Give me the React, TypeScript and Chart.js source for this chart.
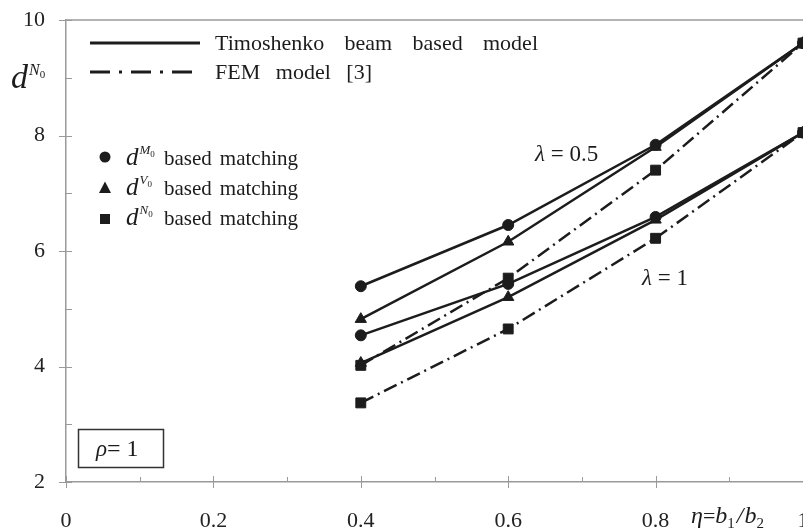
import React, { useEffect, useRef } from "react";
import { Chart, registerables } from "chart.js";

Chart.register(...registerables);

// ---- data ----
const etaValues = [0.4, 0.6, 0.8, 1.0];
// lambda = 0.5
const lam05_M0 = [5.39, 6.45, 7.84, 9.6];
const lam05_V0 = [4.82, 6.16, 7.8, 9.6];
const lam05_FEM = [4.02, 5.53, 7.4, 9.6];
// lambda = 1
const lam1_M0 = [4.54, 5.43, 6.59, 8.05];
const lam1_V0 = [4.06, 5.2, 6.54, 8.05];
const lam1_FEM = [3.37, 4.65, 6.22, 8.05];

const yTicks = [2, 4, 6, 8, 10];
const xTicks = [0, 0.2, 0.4, 0.6, 0.8, 1];

const INK = "#1c1c1c";
const AXIS = "#9a9a9a";
const SERIF = "'Liberation Serif', 'DejaVu Serif', serif";

const pts = (ys: number[]) => etaValues.map((x, i) => ({ x, y: ys[i] }));

type Run = { t: string; size: number; italic?: boolean; dy?: number; dx?: number };

function drawRuns(ctx: CanvasRenderingContext2D, x: number, y: number, runs: Run[]) {
  let cx = x;
  for (const r of runs) {
    ctx.font = `${r.italic ? "italic " : ""}${r.size}px ${SERIF}`;
    cx += r.dx || 0;
    ctx.fillText(r.t, cx, y + (r.dy || 0));
    cx += ctx.measureText(r.t).width;
  }
  return cx;
}

function drawSpaced(ctx: CanvasRenderingContext2D, words: string[], x0: number, x1: number, y: number) {
  const widths = words.map((w) => ctx.measureText(w).width);
  const total = widths.reduce((a, b) => a + b, 0);
  const gap = (x1 - x0 - total) / Math.max(1, words.length - 1);
  let cx = x0;
  words.forEach((w, i) => {
    ctx.fillText(w, cx, y);
    cx += widths[i] + gap;
  });
}

const decor = {
  id: "decor",
  afterDraw(chart: any) {
    const ctx: CanvasRenderingContext2D = chart.ctx;
    const { left, right, top, bottom } = chart.chartArea;
    const xs = chart.scales.x;
    const ys = chart.scales.y;
    ctx.save();
    // top frame line
    ctx.strokeStyle = AXIS;
    ctx.lineWidth = 1.5;
    ctx.beginPath();
    ctx.moveTo(left, top);
    ctx.lineTo(right + 30, top);
    ctx.stroke();
    // y ticks
    ctx.lineWidth = 1;
    for (let v = 2; v <= 10; v += 1) {
      const py = Math.round(ys.getPixelForValue(v)) + 0.5;
      ctx.beginPath();
      if (v % 2 === 0) {
        ctx.moveTo(left - 7, py);
        ctx.lineTo(left + 6, py);
      } else {
        ctx.moveTo(left, py);
        ctx.lineTo(left + 6, py);
      }
      ctx.stroke();
    }
    // x ticks
    for (let i = 0; i <= 10; i++) {
      const v = i / 10;
      const px = Math.round(xs.getPixelForValue(v)) + 0.5;
      ctx.beginPath();
      if (i % 2 === 0) {
        ctx.moveTo(px, bottom - 6);
        ctx.lineTo(px, bottom + 6);
      } else {
        ctx.moveTo(px, bottom - 5);
        ctx.lineTo(px, bottom);
      }
      ctx.stroke();
    }

    ctx.fillStyle = INK;
    ctx.strokeStyle = INK;
    // legend lines
    ctx.lineWidth = 3;
    ctx.beginPath();
    ctx.moveTo(90, 43);
    ctx.lineTo(200, 43);
    ctx.stroke();
    ctx.setLineDash([20, 9, 3, 9]);
    ctx.beginPath();
    ctx.moveTo(90, 72);
    ctx.lineTo(200, 72);
    ctx.stroke();
    ctx.setLineDash([]);

    ctx.textBaseline = "alphabetic";
    ctx.textAlign = "left";
    ctx.font = `22px ${SERIF}`;
    drawSpaced(ctx, ["Timoshenko", "beam", "based", "model"], 215, 538, 50);
    drawSpaced(ctx, ["FEM", "model", "[3]"], 215, 372, 79);

    // marker legend
    ctx.beginPath();
    ctx.arc(105, 157, 5.5, 0, Math.PI * 2);
    ctx.fill();
    ctx.beginPath();
    ctx.moveTo(105, 181.5);
    ctx.lineTo(111, 193);
    ctx.lineTo(99, 193);
    ctx.closePath();
    ctx.fill();
    ctx.fillRect(100, 214, 10, 10);

    const rows: [string, number][] = [
      ["M", 165],
      ["V", 195],
      ["N", 225],
    ];
    rows.forEach(([sup, base]) => {
      drawRuns(ctx, 126, base, [
        { t: "d", size: 25, italic: true },
        { t: sup, size: 13, italic: true, dy: -11, dx: 1 },
        { t: "0", size: 9, dy: -8 },
      ]);
      ctx.font = `21px ${SERIF}`;
      drawSpaced(ctx, ["based", "matching"], 164, 298, base);
    });

    // y axis title
    drawRuns(ctx, 11, 88, [
      { t: "d", size: 34, italic: true },
      { t: "N", size: 16, italic: true, dy: -13, dx: 1 },
      { t: "0", size: 11, dy: -10 },
    ]);

    // x axis title
    drawRuns(ctx, 691, 523, [
      { t: "\u03B7", size: 24, italic: true },
      { t: "=", size: 22 },
      { t: "b", size: 24, italic: true },
      { t: "1", size: 15, dy: 5 },
      { t: "/", size: 24, italic: true, dx: 2 },
      { t: "b", size: 24, italic: true, dx: 1 },
      { t: "2", size: 15, dy: 5 },
    ]);

    // lambda labels
    drawRuns(ctx, 535, 161, [
      { t: "\u03BB", size: 23, italic: true },
      { t: " = 0.5", size: 23 },
    ]);
    drawRuns(ctx, 642, 285, [
      { t: "\u03BB", size: 23, italic: true },
      { t: " = 1", size: 23 },
    ]);

    // rho box
    ctx.strokeStyle = "#333";
    ctx.lineWidth = 1.5;
    ctx.strokeRect(78.5, 429.5, 85, 38);
    drawRuns(ctx, 96, 456, [
      { t: "\u03C1", size: 23, italic: true },
      { t: "= 1", size: 24 },
    ]);

    ctx.restore();
  },
};

function mkSet(data: number[], style: string, radius: number, dashed: boolean) {
  return {
    data: pts(data),
    borderColor: INK,
    backgroundColor: INK,
    borderWidth: 2.5,
    borderDash: dashed ? [14, 5, 2, 5] : [],
    pointStyle: style,
    pointRadius: radius,
    pointBackgroundColor: INK,
    pointBorderColor: INK,
    pointBorderWidth: 1,
    tension: 0,
    fill: false,
    clip: false as any,
  };
}

export default function App() {
  const ref = useRef<HTMLCanvasElement>(null);
  useEffect(() => {
    if (!ref.current) return;
    const chart = new Chart(ref.current, {
      type: "line",
      data: {
        datasets: [
          mkSet(lam05_FEM, "rect", 7, true),
          mkSet(lam1_FEM, "rect", 7, true),
          mkSet(lam05_M0, "circle", 5.5, false),
          mkSet(lam05_V0, "triangle", 6.5, false),
          mkSet(lam1_M0, "circle", 5.5, false),
          mkSet(lam1_V0, "triangle", 6.5, false),
        ] as any,
      },
      options: {
        animation: false,
        responsive: false,
        devicePixelRatio: 1,
        layout: { padding: { top: 20, right: 27, left: 0, bottom: 0 } },
        plugins: { legend: { display: false }, tooltip: { enabled: false } },
        scales: {
          x: {
            type: "linear",
            min: 0,
            max: 1,
            afterFit: (s: any) => {
              s.height = 48;
              s.paddingLeft = 0;
              s.paddingRight = 0;
            },
            afterBuildTicks: (s: any) => {
              s.ticks = xTicks.map((v) => ({ value: v }));
            },
            ticks: {
              font: { family: SERIF, size: 22 },
              color: "#222",
              padding: 18,
              maxRotation: 0,
              callback: (v: any) => String(Number(v)),
            },
            grid: { display: false },
            border: { display: true, color: AXIS, width: 1.5 },
          },
          y: {
            type: "linear",
            min: 2,
            max: 10,
            afterFit: (s: any) => {
              s.width = 66;
              s.paddingTop = 0;
              s.paddingBottom = 0;
            },
            afterBuildTicks: (s: any) => {
              s.ticks = yTicks.map((v) => ({ value: v }));
            },
            ticks: {
              font: { family: SERIF, size: 22 },
              color: "#222",
              padding: 13,
              callback: (v: any) => String(v),
            },
            grid: { display: false },
            border: { display: true, color: AXIS, width: 1.5 },
          },
        },
      },
      plugins: [decor],
    });
    return () => chart.destroy();
  }, []);
  return (
    <div style={{ position: "fixed", left: 0, top: 0, width: 803, height: 530, overflow: "hidden", background: "#fff" }}>
      <canvas ref={ref} width={830} height={530} style={{ display: "block" }} />
    </div>
  );
}
